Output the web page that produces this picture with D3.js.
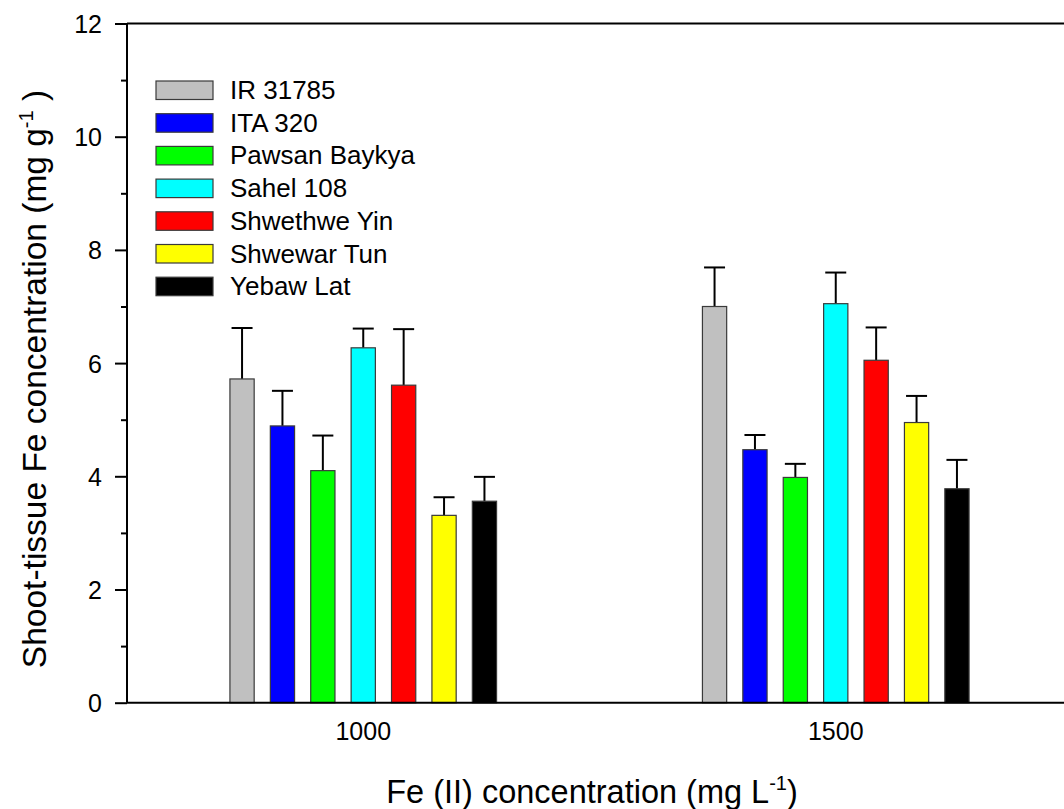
<!DOCTYPE html>
<html>
<head>
<meta charset="utf-8">
<script src="https://cdn.jsdelivr.net/npm/d3@7"></script>
<style>
  body { margin: 0; background: #fff; }
  text { font-family: "Liberation Sans", Arial, sans-serif; fill: #000; }
</style>
</head>
<body>
<svg id="chart" width="1064" height="809"></svg>
<script>
// data
var concentrations = ["1000", "1500"];
var cultivars = ["IR 31785", "ITA 320", "Pawsan Baykya", "Sahel 108", "Shwethwe Yin", "Shwewar Tun", "Yebaw Lat"];
var mean1000 = [5.72, 4.89, 4.10, 6.27, 5.61, 3.31, 3.56];
var err1000  = [0.90, 0.62, 0.62, 0.34, 0.99, 0.32, 0.43];
var mean1500 = [7.00, 4.47, 3.98, 7.05, 6.05, 4.95, 3.78];
var err1500  = [0.69, 0.26, 0.24, 0.55, 0.58, 0.47, 0.51];
var yTicks = [0, 2, 4, 6, 8, 10, 12];

var palette = ["#c0c0c0", "#0000ff", "#00ff00", "#00ffff", "#ff0000", "#ffff00", "#000000"];

var svg = d3.select("#chart");
var plotLeft = 127, plotRight = 1072, plotTop = 23.5, plotBottom = 702.7;

var x0 = d3.scaleBand().domain(concentrations).range([plotLeft, plotRight]).padding(0);
var x1 = d3.scaleBand().domain(cultivars).range([-141.4, 141.4]).paddingInner(0.4).paddingOuter(0.2);
var y = d3.scaleLinear().domain([0, 12]).range([plotBottom, plotTop]);
var color = d3.scaleOrdinal().domain(cultivars).range(palette);

var rows = [];
concentrations.forEach(function(c, gi) {
    var m = gi === 0 ? mean1000 : mean1500;
    var e = gi === 0 ? err1000 : err1500;
    cultivars.forEach(function(name, i) {
        rows.push({conc: c, name: name, mean: m[i], err: e[i]});
    });
});

function barX(d) { return x0(d.conc) + x0.bandwidth() / 2 + x1(d.name); }

// error bars (upper only)
var eb = svg.append("g").selectAll("g").data(rows).enter().append("g");
eb.append("line")
    .attr("x1", d => barX(d) + x1.bandwidth() / 2)
    .attr("x2", d => barX(d) + x1.bandwidth() / 2)
    .attr("y1", d => y(d.mean))
    .attr("y2", d => y(d.mean + d.err))
    .attr("stroke", "#000").attr("stroke-width", 2);
eb.append("line")
    .attr("x1", d => barX(d) + x1.bandwidth() / 2 - 10.5)
    .attr("x2", d => barX(d) + x1.bandwidth() / 2 + 10.5)
    .attr("y1", d => y(d.mean + d.err))
    .attr("y2", d => y(d.mean + d.err))
    .attr("stroke", "#000").attr("stroke-width", 2);

// bars
svg.append("g").selectAll("rect").data(rows).enter().append("rect")
    .attr("x", d => barX(d))
    .attr("y", d => y(d.mean))
    .attr("width", x1.bandwidth())
    .attr("height", d => y(0) - y(d.mean))
    .attr("fill", d => color(d.name))
    .attr("stroke", "#3a3a3a")
    .attr("stroke-width", 1.2);

// axes
var yAxis = d3.axisLeft(y).tickValues(yTicks).tickSize(12).tickPadding(13).tickFormat(d3.format("d"));
var gy = svg.append("g").attr("transform", "translate(" + plotLeft + ",0)").call(yAxis);
gy.select(".domain").remove();
gy.selectAll(".tick line").attr("stroke", "#000").attr("stroke-width", 2);
gy.selectAll(".tick text").style("font-size", "25px").attr("dy", "0.36em");

var minor = d3.axisLeft(y).tickValues([1, 3, 5, 7, 9, 11]).tickSize(6).tickFormat("");
var gm = svg.append("g").attr("transform", "translate(" + plotLeft + ",0)").call(minor);
gm.select(".domain").remove();
gm.selectAll(".tick line").attr("stroke", "#000").attr("stroke-width", 2);

// frame lines: left, bottom, top
svg.append("line").attr("x1", plotLeft).attr("x2", plotLeft).attr("y1", plotTop).attr("y2", plotBottom)
    .attr("stroke", "#000").attr("stroke-width", 2);
svg.append("line").attr("x1", plotLeft).attr("x2", plotRight).attr("y1", plotBottom).attr("y2", plotBottom)
    .attr("stroke", "#000").attr("stroke-width", 2);
svg.append("line").attr("x1", plotLeft).attr("x2", plotRight).attr("y1", plotTop).attr("y2", plotTop)
    .attr("stroke", "#000").attr("stroke-width", 2);

// x tick labels
svg.append("g").selectAll("text").data(concentrations).enter().append("text")
    .attr("x", d => x0(d) + x0.bandwidth() / 2)
    .attr("y", 740)
    .attr("text-anchor", "middle")
    .style("font-size", "25px")
    .text(d => d);

// x title
var xt = svg.append("text").attr("x", 592).attr("y", 803).attr("text-anchor", "middle").style("font-size", "32.5px");
xt.append("tspan").text("Fe (II) concentration (mg L");
xt.append("tspan").attr("dy", -13).style("font-size", "20px").text("-1");
xt.append("tspan").attr("dy", 13).text(")");

// y title
var yt = svg.append("text").attr("transform", "translate(46,379) rotate(-90)").attr("text-anchor", "middle").style("font-size", "33.5px");
yt.append("tspan").text("Shoot-tissue Fe concentration (mg g");
yt.append("tspan").attr("dy", -13).style("font-size", "20px").text("-1");
yt.append("tspan").attr("dy", 13).text(" )");

// legend
var legend = svg.append("g").selectAll("g").data(cultivars).enter().append("g")
    .attr("transform", (d, i) => "translate(156," + (81 + i * 32.7) + ")");
legend.append("rect")
    .attr("width", 57).attr("height", 18.5)
    .attr("fill", d => color(d))
    .attr("stroke", "#3a3a3a").attr("stroke-width", 1.2);
legend.append("text")
    .attr("x", 74).attr("y", 18)
    .style("font-size", "26px")
    .text(d => d);
</script>
</body>
</html>
